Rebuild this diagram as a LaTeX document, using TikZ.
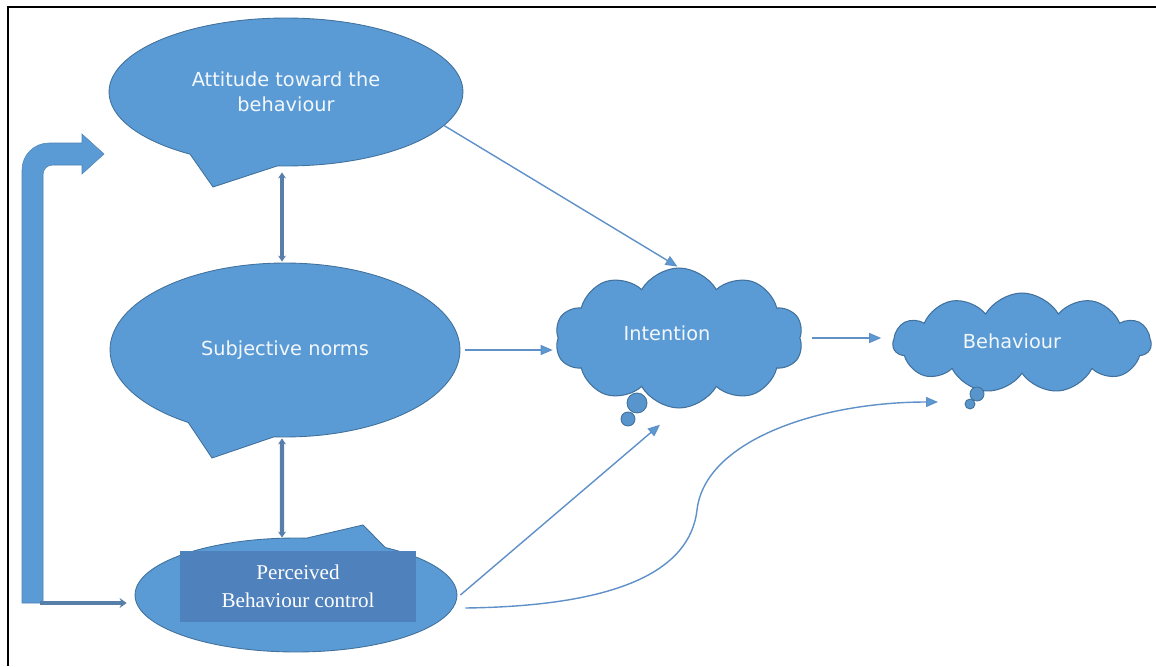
\documentclass[tikz,border=0pt]{standalone}
\usepackage{fontspec}
\setmainfont{DejaVu Sans}
\newfontfamily\serifb{Liberation Serif}
\usetikzlibrary{shapes.callouts,shapes.symbols,arrows.meta,calc}
\definecolor{bfill}{HTML}{5B9BD5}
\definecolor{bdraw}{HTML}{41719C}
\definecolor{dark}{RGB}{88,126,170}
\definecolor{rectc}{HTML}{4F81BD}
\definecolor{thin}{RGB}{95,145,200}
\begin{document}
\begin{tikzpicture}[x=0.02cm,y=-0.02cm,
  bubble/.style={ellipse callout, fill=bfill, draw=bdraw, line width=0.5pt, inner sep=0pt,
    text=white!92!bfill, font=\fontsize{11}{14}\selectfont, align=center, callout pointer arc=30},
  thought/.style={cloud, cloud puffs=10, cloud puff arc=120, cloud ignores aspect, fill=bfill, draw=bdraw,
    line width=0.6pt, inner sep=0pt},
  cloudtext/.style={text=white!92!bfill, font=\fontsize{11}{14}\selectfont},
  puff/.style={circle, fill=bfill!85!bdraw, draw=bdraw, line width=0.5pt, inner sep=0pt},
  link/.style={draw=thin, line width=0.8pt, -{Triangle[length=0.24cm,width=0.2cm,fill=bfill]}},
  duo/.style={draw=dark, line width=2.3pt, {Stealth[length=0.12cm,width=0.16cm]}-{Stealth[length=0.12cm,width=0.16cm]}},
]
\useasboundingbox (0,0) rectangle (1156,666);
\fill[white] (0,0) rectangle (1156,666);
\draw[line width=1.3pt] (8,666) -- (8,7) -- (1156,7);

% speech bubbles
\node[bubble, minimum width=7.08cm, minimum height=2.96cm, callout absolute pointer={(213,187)}] (att) at (286,92) {Attitude toward the\\behaviour};
\node[bubble, minimum width=7.0cm, minimum height=3.48cm, callout absolute pointer={(212,458)}] (sub) at (285,350) {Subjective norms};
\node[bubble, minimum width=6.44cm, minimum height=2.28cm, callout absolute pointer={(363,525)}] (per) at (296,595) {};
\node[fill=rectc, minimum width=4.72cm, minimum height=1.42cm, inner sep=0pt, text=white, align=center,
  font=\serifb\fontsize{12}{16}\selectfont] (perc) at (298,586.5) {Perceived\\Behaviour control};

% clouds
\node[thought, minimum width=4.96cm, minimum height=2.8cm,
  label={[cloudtext, xshift=-0.24cm, yshift=0.1cm]center:Intention}] (int) at (679,338) {};
\node[thought, minimum width=5.16cm, minimum height=2.0cm, cloud puffs=11,
  label={[cloudtext, xshift=-0.2cm, yshift=0.04cm]center:Behaviour}] (beh) at (1022,343) {};
\node[puff, minimum size=0.4cm] (ib1) at (637,403) {};
\node[puff, minimum size=0.28cm] (ib2) at (628,419) {};
\node[puff, minimum size=0.28cm] (bb1) at (977,394) {};
\node[puff, minimum size=0.2cm] (bb2) at (970,404) {};

% double arrows
\draw[duo] ([xshift=-0.08cm,yshift=-0.12cm]att.south) -- ([xshift=-0.06cm,yshift=0.02cm]sub.north);
\draw[duo] ([xshift=-0.06cm,yshift=-0.02cm]sub.south) -- ([xshift=-0.28cm]per.north);

% big bent arrow
\fill[bfill, draw=bfill!85!black, line width=0.3pt] (22,603) -- (22,170) .. controls (22,155) and (34,143) .. (49,143)
  -- (82,143) -- (82,134) -- (104,154) -- (82,174) -- (82,165) -- (53,165)
  .. controls (47,165) and (43,169) .. (43,175) -- (43,603) -- cycle;
\coordinate (lb) at (40,603);
\draw[draw=dark, line width=2pt, -{Stealth[length=0.14cm,width=0.2cm]}, shorten >=0.16cm] (lb) -- (lb -| per.west);

% thin links
\draw[link, shorten >=1pt] (att.-12) -- (int.north);
\draw[link, shorten <=0.1cm, shorten >=0.1cm] (sub.east) -- (sub.east -| int.west);
\draw[link, shorten <=0.24cm, shorten >=0.22cm] (int.east) -- (int.east -| beh.west);
\draw[link, shorten >=0.5cm] ([xshift=0.06cm]per.east) -- (int.south);
\coordinate (cEnd) at (938,402);
\draw[link] ([xshift=0.16cm,yshift=-0.26cm]per.east) .. controls (620,606) and (690,570) .. (697,510)
  .. controls (705,440) and (820,402) .. (cEnd);
\end{tikzpicture}
\end{document}
